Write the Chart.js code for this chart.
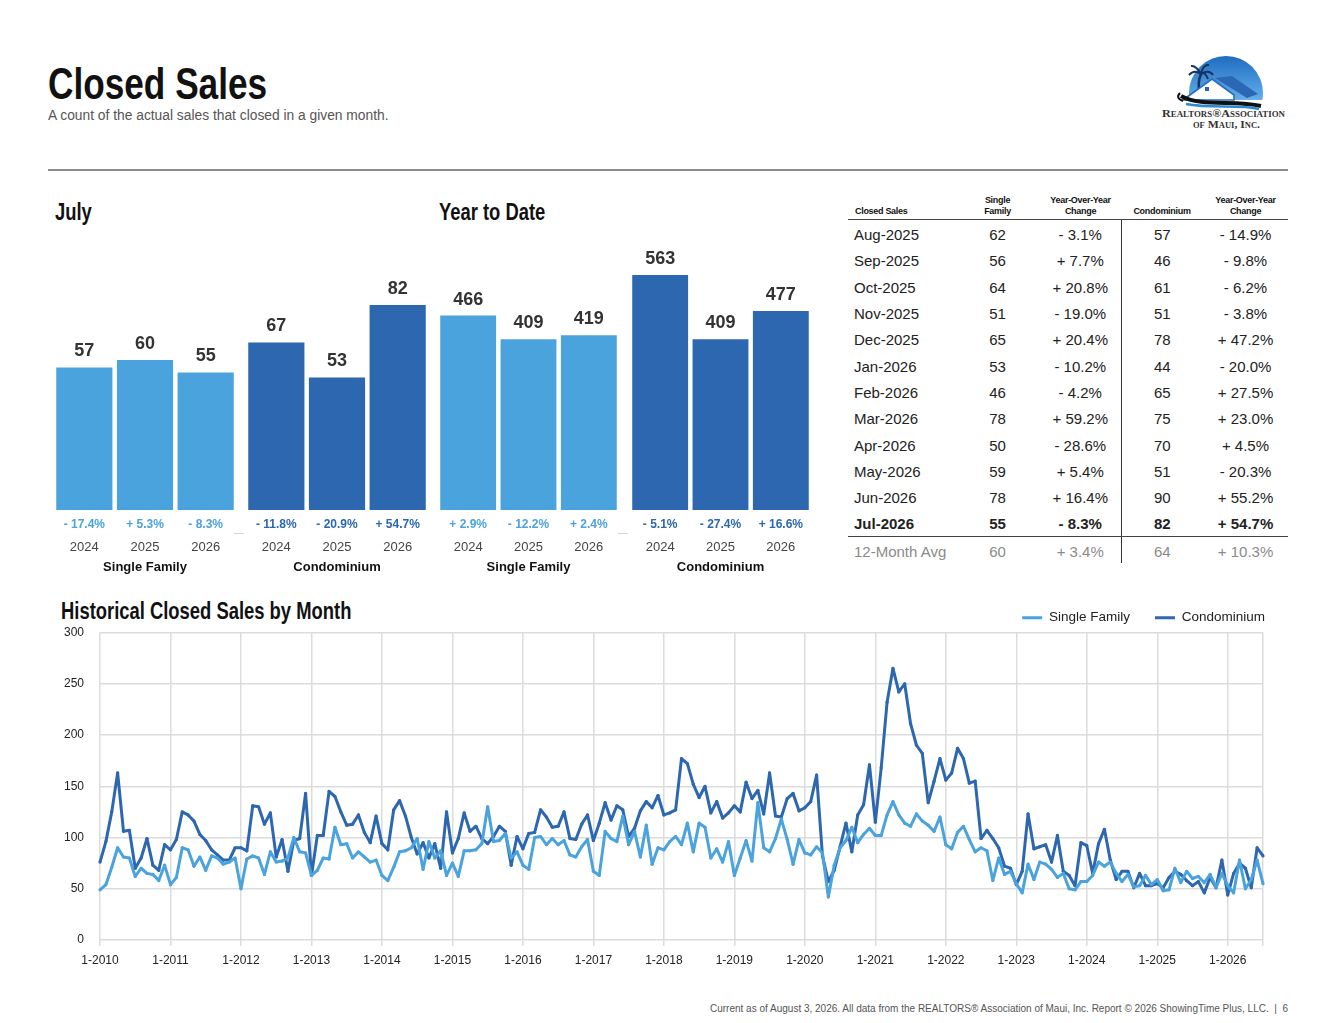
<!DOCTYPE html>
<html>
<head>
<meta charset="utf-8">
<script src="https://cdn.jsdelivr.net/npm/chart.js@4.4.1/dist/chart.umd.min.js"></script>
<style>
    body { margin: 0; background: #fff; font-family: 'Liberation Sans', Arial, sans-serif; }
    #pagina { position: relative; width: 1332px; height: 1023px; overflow: hidden; background: #fff; }
    .abs { position: absolute; }
    .titulo { font-family: 'Liberation Sans', Arial, sans-serif; font-weight: bold; color: #111; white-space: nowrap; transform-origin: left center; transform: scaleX(0.8); }
    #tituloPrincipal { left: 48px; top: 62px; font-size: 44px; line-height: 44px; }
    #subtitulo { left: 48px; top: 108px; font-size: 13.8px; line-height: 16px; color: #555; }
    #linha { left: 48px; top: 169px; width: 1240px; height: 2px; background: #8c8c8c; }
    .secao { font-size: 23px; line-height: 26px; }
    .traco { height: 1px; background: #d4d4d4; top: 533px; }
    canvas { position: absolute; }
    #tabela { position: absolute; left: 848px; top: 193px; width: 440px; border-collapse: collapse; table-layout: fixed; }
    #tabela th { font-size: 9px; font-weight: bold; line-height: 11px; height: 24px; vertical-align: bottom; padding: 0 0 2px 0; text-align: center; color: #111; letter-spacing: -0.3px; border-bottom: 1px solid #444; }
    #tabela th.c1 { text-align: left; padding-left: 7px; }
    #tabela td { height: 22.3px; padding: 4px 0 0 0; font-size: 15px; line-height: 16px; text-align: center; color: #222; }
    #tabela td.c1 { text-align: left; padding-left: 6px; }
    #tabela td.c4 { border-left: 1px solid #333; }
    #tabela tr.atual td { font-weight: bold; border-bottom: 1px solid #444; }
    #tabela tr.media td { color: #8a8a8a; }
    #rodape { right: 44px; top: 1003px; font-size: 10px; line-height: 12px; color: #555; white-space: nowrap; }
</style>
</head>
<body>
<div id="pagina">
    <div id="tituloPrincipal" class="abs titulo">Closed Sales</div>
    <div id="subtitulo" class="abs">A count of the actual sales that closed in a given month.</div>

    <svg class="abs" style="left:1150px;top:50px" width="140" height="85" viewBox="0 0 140 85">
        <defs>
            <linearGradient id="ceu" x1="0" y1="0" x2="0" y2="1">
                <stop offset="0" stop-color="#1f6cc2"/>
                <stop offset="0.55" stop-color="#5eaae6"/>
                <stop offset="1" stop-color="#e2f0fb"/>
            </linearGradient>
            <clipPath id="corte"><rect x="0" y="0" width="140" height="50"/></clipPath>
        </defs>
        <circle cx="76" cy="43" r="37" fill="url(#ceu)" clip-path="url(#corte)"/>
        <path d="M50,44 Q47,33 51,24" stroke="#17325e" stroke-width="2.6" fill="none"/>
        <path d="M51,24 Q44,19 39,25 M51,24 Q46,15 41,16 M51,24 Q53,14 59,15 M51,24 Q59,19 63,25 M51,24 Q55,21 58,29" stroke="#17325e" stroke-width="2" fill="none"/>
        <polygon points="33,50 62,29 84,45 84,50" fill="#ffffff" stroke="#2a6cc0" stroke-width="1.6"/>
        <polygon points="65,28 82,26 108,44 97,48" fill="#2b67b5"/>
        <rect x="55" y="37" width="4" height="4" fill="#2b67b5"/>
        <path d="M31,46 C50,57 85,50 111,56" stroke="#111" stroke-width="4" fill="none"/>
        <path d="M30,43 q-5,5 3,8" stroke="#111" stroke-width="2" fill="none"/>
        <path d="M36,54 C60,59 90,54 109,59" stroke="#2b8ad6" stroke-width="2.4" fill="none"/>
        <text x="12" y="67" font-family="'Liberation Serif', serif" font-weight="bold" font-size="11" fill="#333" textLength="123" lengthAdjust="spacingAndGlyphs" style="font-variant:small-caps">Realtors®Association</text>
        <text x="43" y="78" font-family="'Liberation Serif', serif" font-weight="bold" font-size="11" fill="#333" textLength="67" lengthAdjust="spacingAndGlyphs" style="font-variant:small-caps">of Maui, Inc.</text>
    </svg>

    <div id="linha" class="abs"></div>

    <div class="abs titulo secao" style="left:55px;top:199px">July</div>
    <div class="abs titulo secao" style="left:439px;top:199px">Year to Date</div>

    <canvas id="julhoSF" width="182" height="350" style="left:54px;top:230px"></canvas>
    <canvas id="julhoCondo" width="182" height="350" style="left:246px;top:230px"></canvas>
    <canvas id="anoSF" width="181" height="350" style="left:438px;top:230px"></canvas>
    <canvas id="anoCondo" width="181" height="350" style="left:630px;top:230px"></canvas>
    <div class="abs traco" style="left:234px;width:10px"></div>
    <div class="abs traco" style="left:618px;width:10px"></div>

    <table id="tabela">
        <colgroup><col style="width:107px"><col style="width:85px"><col style="width:81px"><col style="width:82px"><col style="width:85px"></colgroup>
        <thead>
            <tr><th class="c1">Closed Sales</th><th>Single<br>Family</th><th>Year-Over-Year<br>Change</th><th>Condominium</th><th>Year-Over-Year<br>Change</th></tr>
        </thead>
        <tbody id="corpoTabela"></tbody>
    </table>

    <div class="abs titulo secao" style="left:61px;top:598px">Historical Closed Sales by Month</div>
    <canvas id="historico" width="1240" height="391" style="left:40px;top:584px"></canvas>

    <div id="rodape" class="abs">Current as of August 3, 2026. All data from the REALTORS® Association of Maui, Inc. Report © 2026 ShowingTime Plus, LLC. &nbsp;|&nbsp; 6</div>
</div>

<script>
// dados dos graficos de barras
var anos = ['2024', '2025', '2026'];
var julhoSF = [57, 60, 55];
var julhoCondo = [67, 53, 82];
var julhoSFVar = ['- 17.4%', '+ 5.3%', '- 8.3%'];
var julhoCondoVar = ['- 11.8%', '- 20.9%', '+ 54.7%'];
var anoSF = [466, 409, 419];
var anoCondo = [563, 409, 477];
var anoSFVar = ['+ 2.9%', '- 12.2%', '+ 2.4%'];
var anoCondoVar = ['- 5.1%', '- 27.4%', '+ 16.6%'];

// tabela dos ultimos 12 meses
var mesesTabela = ['Aug-2025', 'Sep-2025', 'Oct-2025', 'Nov-2025', 'Dec-2025', 'Jan-2026', 'Feb-2026', 'Mar-2026', 'Apr-2026', 'May-2026', 'Jun-2026', 'Jul-2026'];
var tabelaSF = [62, 56, 64, 51, 65, 53, 46, 78, 50, 59, 78, 55];
var tabelaSFVar = ['- 3.1%', '+ 7.7%', '+ 20.8%', '- 19.0%', '+ 20.4%', '- 10.2%', '- 4.2%', '+ 59.2%', '- 28.6%', '+ 5.4%', '+ 16.4%', '- 8.3%'];
var tabelaCondo = [57, 46, 61, 51, 78, 44, 65, 75, 70, 51, 90, 82];
var tabelaCondoVar = ['- 14.9%', '- 9.8%', '- 6.2%', '- 3.8%', '+ 47.2%', '- 20.0%', '+ 27.5%', '+ 23.0%', '+ 4.5%', '- 20.3%', '+ 55.2%', '+ 54.7%'];
var mediaSF = 60, mediaSFVar = '+ 3.4%', mediaCondo = 64, mediaCondoVar = '+ 10.3%';

// historico mensal, jan-2010 a jul-2026
var anosHistorico = [2010, 2011, 2012, 2013, 2014, 2015, 2016, 2017, 2018, 2019, 2020, 2021, 2022, 2023, 2024, 2025, 2026];
var historicoSF = [
    49, 54, 71, 90, 81, 80, 62, 70, 65, 64, 58, 73,
    54, 61, 90, 88, 72, 81, 68, 82, 80, 74, 76, 80,
    50, 79, 82, 80, 64, 86, 76, 77, 80, 100, 86, 85,
    63, 68, 80, 79, 110, 93, 94, 80, 86, 81, 76, 78,
    63, 58, 71, 86, 87, 90, 99, 69, 96, 80, 87, 63,
    75, 62, 87, 87, 88, 94, 130, 96, 97, 104, 80, 86,
    73, 69, 100, 101, 93, 99, 93, 97, 83, 81, 91, 98,
    67, 63, 106, 99, 96, 121, 93, 106, 81, 112, 74, 90,
    88, 96, 101, 93, 114, 86, 114, 110, 80, 89, 76, 96,
    63, 80, 97, 77, 134, 90, 86, 99, 118, 98, 74, 98,
    85, 83, 91, 85, 42, 73, 90, 97, 110, 95, 103, 109,
    102, 102, 122, 135, 122, 114, 111, 123, 116, 112, 106, 120,
    93, 89, 105, 111, 98, 86, 90, 87, 58, 80, 64, 67,
    55, 46, 74, 59, 76, 74, 69, 61, 65, 50, 49, 57,
    57, 63, 76, 72, 76, 65, 57, 64, 52, 53, 63, 54,
    59, 48, 49, 70, 56, 67, 60, 62, 56, 64, 51, 65,
    53, 46, 78, 50, 59, 78, 55
];
var historicoCondo = [
    76, 96, 125, 163, 106, 107, 70, 80, 99, 73, 68, 93,
    88, 98, 125, 122, 116, 103, 97, 88, 83, 78, 78, 90,
    90, 87, 131, 130, 113, 124, 81, 98, 67, 97, 99, 143,
    63, 102, 102, 145, 140, 125, 112, 113, 122, 105, 95, 121,
    94, 88, 127, 136, 121, 100, 84, 95, 80, 94, 70, 125,
    85, 99, 124, 106, 111, 99, 94, 101, 111, 106, 73, 101,
    89, 104, 105, 127, 120, 110, 111, 125, 99, 98, 113, 122,
    97, 114, 134, 117, 131, 127, 101, 109, 126, 135, 129, 141,
    122, 124, 127, 177, 172, 152, 139, 150, 124, 135, 119, 124,
    131, 125, 154, 138, 146, 123, 163, 121, 120, 138, 143, 126,
    129, 135, 161, 82, 57, 68, 91, 114, 86, 122, 132, 171,
    115, 168, 232, 265, 242, 250, 211, 190, 182, 134, 155, 177,
    156, 163, 187, 177, 153, 155, 99, 107, 99, 90, 72, 70,
    54, 67, 123, 89, 91, 93, 76, 102, 67, 63, 53, 95,
    92, 65, 94, 108, 78, 59, 67, 67, 51, 65, 53, 53,
    55, 51, 61, 67, 64, 58, 53, 57, 46, 61, 51, 78,
    44, 65, 75, 70, 51, 90, 82
];

var AZUL_CLARO = 'rgb(75, 163, 222)';
var AZUL_ESCURO = 'rgb(44, 103, 176)';

Chart.defaults.font.family = "'Liberation Sans', Arial, sans-serif";
Chart.defaults.color = '#333';

// rotulos acima das barras e variacao logo abaixo
var rotulosBarras = {
    id: 'rotulosBarras',
    afterDatasetsDraw: function (chart, args, opts) {
        var ctx = chart.ctx;
        var area = chart.chartArea;
        var ds = chart.data.datasets[0];
        chart.getDatasetMeta(0).data.forEach(function (barra, i) {
            ctx.save();
            ctx.textAlign = 'center';
            ctx.textBaseline = 'middle';
            ctx.fillStyle = '#333';
            ctx.font = "bold 18px 'Liberation Sans', Arial";
            ctx.fillText(ds.data[i], barra.x, barra.y - 16);
            ctx.fillStyle = ds.backgroundColor;
            ctx.font = "bold 12px 'Liberation Sans', Arial";
            ctx.fillText(opts.variacao[i], barra.x, area.bottom + 15);
            ctx.restore();
        });
    }
};

function graficoBarras(id, valores, variacao, cor, maximo, grupo) {
    return new Chart(document.getElementById(id), {
        type: 'bar',
        data: {
            labels: anos,
            datasets: [{
                data: valores,
                backgroundColor: cor,
                barPercentage: 0.926,
                categoryPercentage: 1
            }]
        },
        options: {
            responsive: false,
            animation: false,
            layout: { padding: 0 },
            plugins: {
                legend: { display: false },
                tooltip: { enabled: false },
                rotulosBarras: { variacao: variacao }
            },
            scales: {
                x: {
                    grid: { display: false, drawTicks: false },
                    border: { display: false },
                    ticks: {
                        color: '#444',
                        font: { size: 13, lineHeight: 1.4 },
                        padding: 10,
                        // primeira linha vazia: a variacao fica nesse espaco
                        callback: function (valor) { return ['', this.getLabelForValue(valor)]; }
                    },
                    title: { display: true, text: grupo, color: '#111', font: { size: 13, weight: 'bold' }, padding: { top: 0, bottom: 5 } },
                    afterFit: function (escala) { escala.height = 70; }
                },
                y: { display: false, min: 0, max: maximo }
            }
        },
        plugins: [rotulosBarras]
    });
}

graficoBarras('julhoSF', julhoSF, julhoSFVar, AZUL_CLARO, 112, 'Single Family');
graficoBarras('julhoCondo', julhoCondo, julhoCondoVar, AZUL_ESCURO, 112, 'Condominium');
graficoBarras('anoSF', anoSF, anoSFVar, AZUL_CLARO, 671, 'Single Family');
graficoBarras('anoCondo', anoCondo, anoCondoVar, AZUL_ESCURO, 671, 'Condominium');

// tabela
var corpoTabela = document.getElementById('corpoTabela');
mesesTabela.forEach(function (mes, i) {
    var tr = document.createElement('tr');
    if (i === mesesTabela.length - 1) tr.className = 'atual';
    tr.innerHTML = `
        <td class="c1">${mes}</td>
        <td>${tabelaSF[i]}</td>
        <td>${tabelaSFVar[i]}</td>
        <td class="c4">${tabelaCondo[i]}</td>
        <td>${tabelaCondoVar[i]}</td>
    `;
    corpoTabela.appendChild(tr);
});
var trMedia = document.createElement('tr');
trMedia.className = 'media';
trMedia.innerHTML = `
    <td class="c1">12-Month Avg</td>
    <td>${mediaSF}</td>
    <td>${mediaSFVar}</td>
    <td class="c4">${mediaCondo}</td>
    <td>${mediaCondoVar}</td>
`;
corpoTabela.appendChild(trMedia);

// rotulos dos meses: "1-2010", "2-2010", ...
var rotulosMeses = [];
anosHistorico.forEach(function (ano) {
    for (var m = 1; m <= 12; m++) {
        if (rotulosMeses.length < historicoSF.length) rotulosMeses.push(m + '-' + ano);
    }
});

function corGrade(c) {
    return (c.index % 12 === 0 || c.index === rotulosMeses.length - 1) ? '#dcdcdc' : 'rgba(0,0,0,0)';
}

// empurra a legenda para a direita e um pouco para baixo
var ajusteLegenda = {
    id: 'ajusteLegenda',
    afterLayout: function (chart) {
        chart.legend.left += 27;
        chart.legend.right += 27;
        chart.legend.top += 2;
        chart.legend.bottom += 2;
    }
};

new Chart(document.getElementById('historico'), {
    type: 'line',
    data: {
        labels: rotulosMeses,
        datasets: [
            {
                label: 'Single Family',
                data: historicoSF,
                borderColor: AZUL_CLARO,
                backgroundColor: AZUL_CLARO,
                borderWidth: 3,
                borderJoinStyle: 'round',
                pointRadius: 1.6,
                pointBorderWidth: 0,
                pointBackgroundColor: AZUL_CLARO,
                tension: 0
            },
            {
                label: 'Condominium',
                data: historicoCondo,
                borderColor: AZUL_ESCURO,
                backgroundColor: AZUL_ESCURO,
                borderWidth: 3,
                borderJoinStyle: 'round',
                pointRadius: 1.6,
                pointBorderWidth: 0,
                pointBackgroundColor: AZUL_ESCURO,
                tension: 0
            }
        ]
    },
    options: {
        responsive: false,
        animation: false,
        layout: { padding: { left: 0, right: 17, top: 0, bottom: 0 } },
        plugins: {
            legend: {
                position: 'top',
                align: 'end',
                labels: {
                    usePointStyle: true,
                    pointStyleWidth: 20,
                    boxWidth: 20,
                    color: '#222',
                    font: { size: 13.5 },
                    padding: 25,
                    generateLabels: function (chart) {
                        var itens = Chart.defaults.plugins.legend.labels.generateLabels(chart);
                        itens.forEach(function (item) {
                            item.pointStyle = 'line';
                            item.lineWidth = 3;
                        });
                        return itens;
                    }
                }
            },
            tooltip: { enabled: false }
        },
        scales: {
            x: {
                offset: false,
                grid: { color: corGrade, lineWidth: 1.5, tickLength: 6 },
                border: { display: false },
                ticks: {
                    autoSkip: false,
                    maxRotation: 0,
                    minRotation: 0,
                    color: '#222',
                    font: { size: 12 },
                    padding: 7,
                    callback: function (valor, i) { return i % 12 === 0 ? rotulosMeses[i] : ''; }
                },
                afterFit: function (escala) { escala.height = 35; }
            },
            y: {
                min: 0,
                max: 300,
                ticks: { stepSize: 50, color: '#222', font: { size: 12 }, padding: 16 },
                grid: { color: '#dcdcdc', lineWidth: 1.5, drawTicks: false },
                border: { display: false },
                afterFit: function (escala) { escala.width = 60; }
            }
        }
    },
    plugins: [ajusteLegenda]
});
</script>
</body>
</html>
